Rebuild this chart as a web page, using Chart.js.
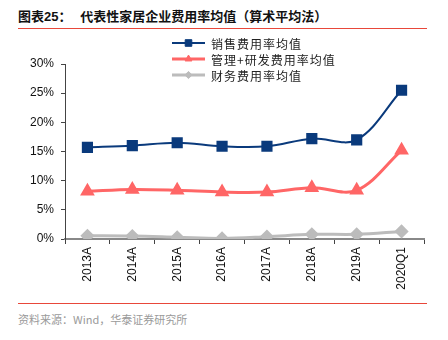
<!DOCTYPE html>
<html>
<head>
<meta charset="utf-8">
<script src="https://cdn.jsdelivr.net/npm/chart.js@4/dist/chart.umd.min.js"></script>
<style>
    body { margin: 0; width: 448px; height: 340px; background: #fff; position: relative; overflow: hidden; }
    #title { position: absolute; left: 18px; top: 6px; font: bold 13px "Noto Sans CJK SC", sans-serif; color: #111; white-space: nowrap; }
    #title .num { font-family: "Liberation Sans", Arial, sans-serif; }
    .rule { position: absolute; left: 18px; width: 409px; height: 1px; background: #e8473a; }
    #source { position: absolute; left: 18px; top: 311px; font: 11px "Noto Sans CJK SC", sans-serif; color: #9a9a9a; white-space: nowrap; }
    #wrap { position: absolute; left: 0; top: 30px; width: 448px; height: 270px; }
</style>
</head>
<body>

<div id="title">图表<span class="num">25</span>：&nbsp;&nbsp; 代表性家居企业费用率均值（算术平均法）</div>
<div class="rule" style="top:28px"></div>
<div id="wrap"><canvas id="chart" width="448" height="270"></canvas></div>
<div class="rule" style="top:303px"></div>
<div id="source">资料来源：Wind，华泰证券研究所</div>

<script>
/* =========================
   DATA
========================= */

const categories = ["2013A", "2014A", "2015A", "2016A", "2017A", "2018A", "2019A", "2020Q1"];
const seriesNames = ["销售费用率均值", "管理+研发费用率均值", "财务费用率均值"];
const salesRate = [15.7, 16.0, 16.5, 15.9, 15.9, 17.2, 17.0, 25.5];
const adminRate = [8.2, 8.5, 8.35, 8.05, 8.05, 8.8, 8.35, 15.2];
const financeRate = [0.55, 0.5, 0.3, 0.1, 0.4, 0.8, 0.8, 1.3];
const yTicks = [0, 5, 10, 15, 20, 25, 30];

/* =========================
   LEGEND (drawn inside the plot)
========================= */

const legendPlugin = {
    id: "cornerLegend",
    afterDraw(chart) {
        const ctx = chart.ctx;
        const x0 = 172, x1 = 205, textX = 211;
        const rows = [13, 29, 45];
        ctx.save();
        chart.data.datasets.forEach((ds, i) => {
            const y = rows[i];
            ctx.strokeStyle = ds.borderColor;
            ctx.fillStyle = ds.borderColor;
            ctx.lineWidth = ds.borderWidth;
            ctx.beginPath();
            ctx.moveTo(x0, y);
            ctx.lineTo(x1, y);
            ctx.stroke();
            ctx.lineWidth = 1;
            Chart.helpers.drawPoint(ctx, {
                pointStyle: ds.pointStyle,
                radius: ds.pointRadius * 0.72,
                borderWidth: 1
            }, (x0 + x1) / 2, y);
            ctx.fillStyle = "#222";
            ctx.font = "12px 'Noto Sans CJK SC', sans-serif";
            ctx.letterSpacing = "1px";
            ctx.textBaseline = "middle";
            ctx.fillText(ds.label, textX, y + 1);
            ctx.letterSpacing = "0px";
        });
        ctx.restore();
    }
};

/* =========================
   CHART
========================= */

function makeSet(label, data, color, width, style, radius) {
    return {
        label: label,
        data: data,
        borderColor: color,
        backgroundColor: color,
        pointBackgroundColor: color,
        pointBorderColor: color,
        borderWidth: width,
        pointStyle: style,
        pointRadius: radius,
        pointHoverRadius: radius,
        tension: 0.35,
        fill: false
    };
}

new Chart(document.getElementById("chart"), {
    type: "line",
    data: {
        labels: categories,
        datasets: [
            makeSet(seriesNames[0], salesRate, "#0a3a7c", 2, "rect", 6.5),
            makeSet(seriesNames[1], adminRate, "#ff6666", 3, "triangle", 5.5),
            makeSet(seriesNames[2], financeRate, "#bcbcbc", 3, "rectRot", 5)
        ]
    },
    options: {
        responsive: false,
        animation: false,
        events: [],
        layout: { padding: { top: 34, left: 0, right: 24, bottom: 0 } },
        plugins: {
            legend: { display: false },
            tooltip: { enabled: false }
        },
        scales: {
            x: {
                offset: true,
                afterFit: s => { s.height = 61; },
                grid: {
                    offset: true,
                    drawOnChartArea: false,
                    drawTicks: true,
                    tickLength: 5,
                    color: "#444"
                },
                border: { display: true, color: "#888", width: 2 },
                ticks: {
                    minRotation: 90,
                    maxRotation: 90,
                    padding: 3,
                    color: "#111",
                    font: { family: "'Liberation Sans', Arial, sans-serif", size: 12 }
                }
            },
            y: {
                min: 0,
                max: 30,
                afterFit: s => { s.width = 65; },
                afterBuildTicks: s => { s.ticks = yTicks.map(v => ({ value: v })); },
                grid: {
                    drawOnChartArea: false,
                    drawTicks: true,
                    tickLength: 4,
                    color: "#444"
                },
                border: { display: true, color: "#444", width: 1 },
                ticks: {
                    padding: 7,
                    color: "#111",
                    font: { family: "'Liberation Sans', Arial, sans-serif", size: 12 },
                    callback: v => v + "%"
                }
            }
        }
    },
    plugins: [legendPlugin]
});
</script>
</body>
</html>
